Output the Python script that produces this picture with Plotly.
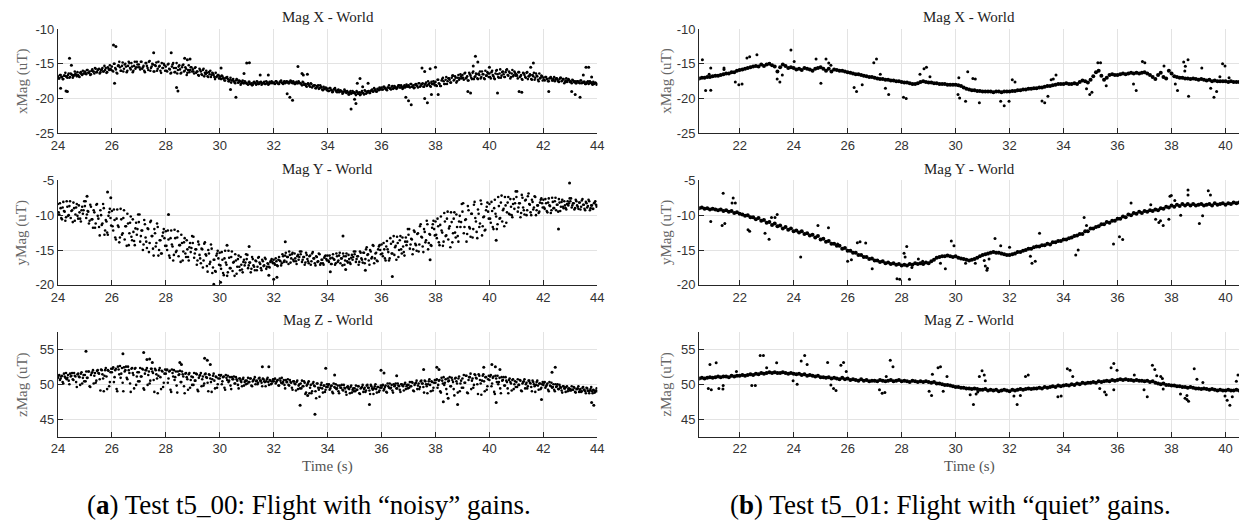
import numpy as np
import plotly.graph_objects as go

W, H = 1250, 531

# ---------------- data ----------------
# left column (Test t5_00, "noisy"): two interleaved sample sets, 0.05 s apart each
left_a_t0, left_a_t1 = 24.0, 44.0      # set A: 24.000 ... 44.000
left_b_t0, left_b_t1 = 24.025, 43.975  # set B: 24.025 ... 43.975
# right column (Test t5_01, "quiet"): samples every 0.1 s
right_t0, right_t1 = 20.5, 40.5

lx_a = [
    -16.8, -17.1, -16.6, -16.9, -17.2, -16.7, -16.8, -17.0, -16.4, -16.9, -16.5, -17.0, -16.6, -16.4, -16.8, -16.6, -16.9, -16.2, -16.6, -16.4,
    -16.1, -16.5, -15.9, -16.3, -16.6, -16.0, -16.1, -16.4, -15.7, -16.2, -15.8, -16.4, -15.9, -15.6, -16.1, -15.9, -16.3, -15.5, -15.9, -15.7,
    -15.4, -16.1, -15.0, -15.8, -16.4, -15.2, -15.5, -16.0, -14.8, -15.7, -15.0, -16.2, -15.3, -14.9, -15.8, -15.4, -16.0, -14.7, -15.5, -15.1,
    -15.1, -15.8, -14.7, -15.5, -16.0, -14.9, -15.3, -15.9, -14.6, -15.6, -15.0, -16.1, -15.2, -14.8, -15.7, -15.4, -16.0, -14.9, -15.6, -15.2,
    -15.4, -16.1, -15.0, -15.8, -16.3, -15.1, -15.6, -16.2, -14.9, -15.9, -15.2, -16.4, -15.5, -15.1, -16.0, -15.7, -16.3, -15.2, -15.9, -15.5,
    -15.8, -16.4, -15.5, -16.1, -16.6, -15.7, -16.1, -16.6, -15.7, -16.3, -16.0, -16.8, -16.2, -16.0, -16.6, -16.4, -16.9, -16.3, -16.8, -16.6,
    -16.8, -17.2, -16.8, -17.1, -17.4, -17.0, -17.2, -17.5, -17.0, -17.4, -17.2, -17.7, -17.4, -17.3, -17.7, -17.5, -17.8, -17.4, -17.8, -17.6,
    -17.8, -18.0, -17.6, -17.9, -18.1, -17.7, -17.8, -18.0, -17.6, -17.9, -17.7, -18.0, -17.8, -17.6, -17.9, -17.8, -18.0, -17.6, -17.8, -17.7,
    -17.7, -17.9, -17.5, -17.8, -17.9, -17.6, -17.7, -17.9, -17.5, -17.7, -17.6, -17.8, -17.6, -17.5, -17.8, -17.7, -17.9, -17.6, -17.8, -17.7,
    -17.8, -18.1, -17.7, -18.0, -18.2, -17.9, -18.0, -18.3, -17.9, -18.2, -18.1, -18.5, -18.2, -18.1, -18.5, -18.3, -18.7, -18.3, -18.6, -18.5,
    -18.6, -18.9, -18.5, -18.8, -19.0, -18.6, -18.8, -19.1, -18.7, -19.0, -18.9, -19.3, -19.0, -18.9, -19.2, -19.1, -19.4, -18.9, -19.2, -19.1,
    -19.1, -19.5, -19.1, -19.3, -19.5, -19.1, -19.2, -19.4, -18.9, -19.2, -19.0, -19.2, -18.9, -18.7, -19.0, -18.8, -19.0, -18.6, -18.8, -18.6,
    -18.4, -18.7, -18.3, -18.6, -18.8, -18.4, -18.5, -18.7, -18.2, -18.5, -18.3, -18.6, -18.3, -18.1, -18.4, -18.3, -18.5, -18.1, -18.3, -18.2,
    -18.1, -18.4, -17.9, -18.3, -18.5, -18.0, -18.1, -18.4, -17.8, -18.2, -17.9, -18.3, -18.0, -17.7, -18.1, -17.9, -18.2, -17.6, -17.9, -17.8,
    -17.6, -18.2, -17.3, -17.9, -18.2, -17.2, -17.5, -17.9, -16.9, -17.5, -17.1, -17.7, -17.0, -16.7, -17.3, -17.0, -17.5, -16.6, -17.1, -16.8,
    -16.6, -17.3, -16.3, -17.0, -17.4, -16.3, -16.7, -17.2, -16.1, -16.9, -16.4, -17.1, -16.4, -16.1, -16.9, -16.5, -17.1, -16.0, -16.7, -16.4,
    -16.4, -17.1, -16.0, -16.8, -17.2, -16.0, -16.5, -17.0, -15.8, -16.7, -16.1, -16.9, -16.2, -15.8, -16.7, -16.3, -16.9, -15.9, -16.6, -16.3,
    -16.5, -17.1, -16.2, -16.8, -17.2, -16.3, -16.6, -17.0, -16.2, -16.8, -16.5, -17.2, -16.6, -16.3, -17.0, -16.7, -17.3, -16.4, -17.0, -16.8,
    -17.0, -17.4, -16.9, -17.2, -17.5, -17.0, -17.1, -17.4, -16.9, -17.3, -17.1, -17.5, -17.2, -17.0, -17.4, -17.2, -17.6, -17.1, -17.4, -17.3,
    -17.5, -17.8, -17.4, -17.6, -17.8, -17.5, -17.6, -17.8, -17.4, -17.7, -17.6, -17.9, -17.7, -17.5, -17.8, -17.7, -17.9, -17.6, -17.8, -17.8,
    -17.9,
]
lx_b = [
    -17.1, -16.6, -16.9, -17.2, -16.7, -16.3, -16.9, -16.6, -17.0, -16.4, -16.6, -16.8, -16.1, -16.6, -16.2, -16.8, -16.3, -16.5, -16.0, -16.4,
    -16.3, -15.9, -16.3, -16.1, -16.5, -15.8, -16.1, -15.6, -16.2, -15.9, -15.7, -16.2, -15.8, -16.1, -15.3, -15.6, -16.2, -15.7, -15.2, -15.9,
    -16.0, -15.0, -15.6, -16.3, -15.3, -14.7, -16.0, -15.3, -16.1, -15.1, -15.4, -16.0, -14.7, -15.6, -14.9, -16.2, -15.3, -15.7, -14.7, -15.5,
    -15.5, -14.7, -15.7, -15.3, -16.2, -14.9, -15.6, -14.7, -16.0, -15.4, -15.1, -16.1, -15.3, -16.0, -14.7, -15.3, -16.3, -15.6, -15.0, -16.0,
    -16.0, -15.1, -15.7, -16.4, -15.4, -14.9, -16.2, -15.6, -16.4, -15.4, -15.8, -16.3, -15.2, -16.1, -15.5, -16.6, -15.9, -16.2, -15.5, -16.1,
    -16.1, -15.6, -16.3, -16.1, -16.7, -15.9, -16.5, -15.9, -16.8, -16.5, -16.3, -16.9, -16.5, -16.9, -16.3, -16.6, -17.2, -16.9, -16.6, -17.1,
    -17.1, -16.7, -17.1, -17.4, -17.0, -16.9, -17.5, -17.3, -17.7, -17.3, -17.5, -17.8, -17.2, -17.7, -17.4, -18.0, -17.6, -17.8, -17.5, -17.8,
    -17.9, -17.6, -17.9, -17.8, -18.0, -17.6, -17.8, -17.5, -17.9, -17.7, -17.6, -17.9, -17.7, -17.9, -17.5, -17.7, -17.9, -17.7, -17.5, -17.8,
    -17.8, -17.5, -17.7, -17.9, -17.6, -17.4, -17.8, -17.6, -17.8, -17.5, -17.6, -17.8, -17.4, -17.7, -17.5, -17.9, -17.7, -17.8, -17.5, -17.8,
    -17.9, -17.6, -18.0, -17.9, -18.3, -17.8, -18.2, -17.8, -18.4, -18.2, -18.1, -18.5, -18.3, -18.6, -18.1, -18.4, -18.8, -18.6, -18.4, -18.8,
    -18.9, -18.5, -18.8, -19.1, -18.7, -18.5, -19.0, -18.8, -19.1, -18.8, -19.0, -19.2, -18.7, -19.1, -18.9, -19.4, -19.1, -19.3, -18.9, -19.2,
    -19.3, -18.9, -19.3, -19.1, -19.4, -18.9, -19.2, -18.8, -19.3, -19.0, -18.9, -19.2, -18.8, -19.0, -18.5, -18.7, -19.0, -18.7, -18.4, -18.7,
    -18.7, -18.3, -18.5, -18.7, -18.4, -18.1, -18.6, -18.3, -18.6, -18.2, -18.4, -18.5, -18.1, -18.4, -18.1, -18.6, -18.3, -18.4, -18.0, -18.3,
    -18.3, -17.9, -18.3, -18.1, -18.4, -17.9, -18.2, -17.8, -18.3, -18.0, -17.8, -18.3, -17.9, -18.2, -17.5, -17.8, -18.3, -17.9, -17.5, -18.1,
    -18.1, -17.3, -17.8, -18.2, -17.4, -17.0, -17.9, -17.3, -17.9, -17.1, -17.3, -17.7, -16.7, -17.4, -16.8, -17.7, -17.0, -17.3, -16.5, -17.1,
    -17.0, -16.4, -17.1, -16.8, -17.4, -16.5, -17.0, -16.3, -17.2, -16.8, -16.5, -17.2, -16.6, -17.1, -16.1, -16.5, -17.2, -16.7, -16.2, -16.9,
    -16.9, -16.2, -16.6, -17.1, -16.4, -15.9, -16.9, -16.4, -17.0, -16.2, -16.5, -16.9, -15.9, -16.6, -16.1, -17.1, -16.4, -16.8, -16.1, -16.7,
    -16.7, -16.2, -16.9, -16.6, -17.3, -16.4, -16.9, -16.3, -17.2, -16.8, -16.6, -17.3, -16.8, -17.3, -16.4, -16.8, -17.5, -17.1, -16.7, -17.4,
    -17.3, -16.9, -17.2, -17.5, -17.1, -16.9, -17.4, -17.2, -17.5, -17.1, -17.3, -17.6, -17.0, -17.5, -17.2, -17.8, -17.4, -17.6, -17.2, -17.6,
    -17.6, -17.3, -17.6, -17.5, -17.8, -17.5, -17.7, -17.4, -17.8, -17.7, -17.6, -17.9, -17.7, -17.9, -17.5, -17.7, -18.0, -17.9, -17.7, -18.0,
]
lx_out_t = [24.1, 24.3, 24.35, 24.43, 24.5, 26.06, 26.15, 26.1, 27.55, 28.2, 28.7, 28.8, 28.9, 28.4, 28.45, 30.05, 30.4, 30.6, 30.9, 31.1,
            31.0, 31.5, 31.8, 32.5, 32.6, 32.7, 32.9, 33.05, 33.1, 33.25, 34.87, 35.0, 35.05, 35.1, 35.2, 35.3, 35.5, 36.9, 37.0, 37.1,
            37.5, 37.6, 37.8, 38.0, 37.6, 37.7, 37.85, 38.1, 39.2, 39.3, 39.4, 39.48, 39.57, 40.0, 40.3, 41.1, 41.2, 41.53, 41.63, 42.2,
            43.05, 43.18, 43.36, 43.58, 43.68, 43.48, 43.79]
lx_out_v = [-18.5, -18.9, -19.0, -14.2, -15.2, -12.3, -12.5, -17.8, -13.4, -13.4, -14.2, -14.4, -14.3, -18.4, -18.9, -15.6, -18.7, -19.8, -16.4, -14.85,
            -14.9, -16.6, -16.6, -19.3, -19.8, -20.25, -15.4, -16.4, -16.6, -16.5, -21.5, -20.1, -20.7, -17.8, -17.1, -18.3, -17.8, -19.8, -20.3, -20.9,
            -15.6, -16.1, -15.7, -15.5, -20.0, -20.6, -19.4, -19.4, -19.0, -19.2, -15.3, -13.9, -14.75, -15.5, -19.2, -19.0, -19.1, -15.5, -14.9, -19.0,
            -19.0, -19.4, -19.8, -15.5, -15.5, -16.6, -16.9]

ly_a = [
    -8.4, -9.9, -9.0, -10.6, -8.1, -9.5, -10.3, -8.8, -10.0, -8.0, -9.4, -11.0, -9.0, -9.9, -8.4, -10.5, -9.6, -10.9, -8.8, -9.3,
    -8.7, -10.4, -9.4, -11.2, -8.5, -10.6, -11.8, -9.6, -11.2, -8.4, -10.5, -12.9, -10.0, -11.2, -9.0, -12.2, -10.9, -12.8, -9.6, -10.4,
    -9.4, -12.2, -10.7, -13.5, -9.2, -11.7, -13.2, -10.6, -12.6, -9.3, -11.6, -14.4, -11.2, -12.6, -10.2, -13.6, -12.4, -14.3, -11.1, -12.0,
    -11.0, -13.8, -12.2, -15.0, -10.7, -13.2, -14.7, -12.0, -14.0, -10.8, -13.0, -15.8, -12.6, -14.0, -11.7, -15.0, -13.6, -15.5, -12.5, -13.3,
    -12.3, -15.0, -13.5, -16.1, -12.2, -14.5, -15.7, -13.3, -15.1, -12.3, -14.3, -16.7, -14.0, -15.2, -13.3, -16.0, -14.9, -16.5, -14.0, -14.7,
    -14.0, -16.1, -14.9, -17.1, -13.8, -15.7, -16.9, -14.9, -16.5, -13.9, -15.8, -18.1, -15.5, -16.7, -14.8, -17.5, -16.4, -18.1, -15.5, -16.2,
    -15.4, -17.7, -16.4, -18.6, -15.1, -17.1, -18.2, -16.1, -17.6, -15.2, -16.8, -18.7, -16.5, -17.4, -15.8, -17.9, -17.1, -18.2, -16.4, -16.8,
    -16.3, -17.6, -16.8, -18.2, -16.0, -17.2, -17.9, -16.6, -17.4, -16.0, -17.0, -17.9, -16.6, -17.2, -16.3, -17.4, -17.0, -17.5, -16.5, -16.7,
    -16.4, -17.1, -16.6, -17.3, -16.0, -16.6, -16.9, -15.9, -16.5, -15.4, -16.0, -17.0, -15.7, -16.2, -15.4, -16.6, -16.2, -17.0, -15.7, -16.0,
    -15.6, -16.7, -16.0, -17.1, -15.4, -16.3, -16.9, -15.8, -16.6, -15.3, -16.2, -17.2, -16.0, -16.6, -15.6, -16.9, -16.4, -17.1, -15.9, -16.3,
    -15.8, -16.7, -16.2, -17.0, -15.6, -16.4, -16.9, -15.9, -16.5, -15.4, -16.2, -17.2, -15.9, -16.5, -15.5, -16.8, -16.3, -17.0, -15.7, -16.0,
    -15.6, -16.7, -15.9, -17.1, -15.2, -16.2, -16.8, -15.4, -16.3, -14.6, -15.6, -17.1, -15.2, -16.0, -14.4, -16.2, -15.4, -16.6, -14.5, -15.0,
    -14.2, -15.9, -14.9, -16.5, -13.7, -15.3, -16.2, -14.1, -15.5, -13.0, -14.6, -16.4, -14.0, -15.0, -13.0, -15.5, -14.5, -15.8, -13.2, -13.8,
    -12.8, -14.8, -13.4, -15.6, -12.2, -14.1, -15.1, -12.6, -14.2, -11.3, -13.2, -15.3, -12.4, -13.6, -11.3, -14.0, -12.8, -14.4, -11.3, -12.0,
    -10.9, -13.3, -11.6, -14.3, -10.2, -12.5, -13.8, -10.9, -12.9, -9.5, -11.9, -14.6, -11.0, -12.6, -9.6, -13.2, -11.7, -13.8, -10.1, -11.0,
    -9.5, -12.6, -10.7, -13.8, -8.7, -11.7, -13.1, -9.8, -12.0, -8.1, -10.9, -13.3, -9.8, -11.2, -8.4, -11.6, -10.2, -12.1, -8.8, -9.5,
    -8.4, -11.1, -9.4, -12.0, -7.8, -10.2, -11.3, -8.7, -10.4, -7.2, -9.3, -11.6, -8.6, -9.6, -7.4, -9.9, -8.8, -10.3, -7.7, -8.3,
    -7.4, -9.5, -8.3, -10.3, -7.1, -8.9, -9.9, -7.8, -9.3, -6.9, -8.5, -10.0, -8.1, -8.9, -7.4, -9.3, -8.6, -9.5, -7.8, -8.3,
    -7.8, -9.1, -8.3, -9.6, -7.6, -8.7, -9.3, -8.1, -9.0, -7.5, -8.5, -9.5, -8.2, -8.8, -7.8, -9.0, -8.6, -9.2, -8.0, -8.3,
    -8.0, -8.9, -8.3, -9.2, -7.8, -8.6, -9.1, -8.2, -8.8, -7.7, -8.5, -9.3, -8.3, -8.7, -8.0, -9.0, -8.6, -9.1, -8.2, -8.5,
    -8.6,
]
ly_b = [
    -9.6, -8.3, -10.4, -8.9, -9.4, -10.8, -8.0, -10.1, -8.7, -10.4, -9.3, -8.2, -10.8, -8.9, -10.1, -8.6, -10.5, -9.3, -9.8, -8.0,
    -8.0, -9.9, -9.5, -10.8, -8.8, -10.6, -9.3, -11.8, -8.5, -10.1, -11.7, -9.3, -11.4, -8.4, -12.8, -10.7, -12.5, -10.1, -9.1, -11.5,
    -11.6, -9.2, -13.2, -10.5, -11.5, -13.9, -9.1, -12.8, -10.4, -13.5, -11.6, -9.8, -14.3, -11.1, -13.1, -10.6, -13.7, -11.9, -12.8, -9.9,
    -9.9, -13.0, -12.2, -14.2, -11.3, -13.8, -11.9, -15.3, -11.0, -13.0, -14.8, -12.0, -14.5, -11.2, -15.8, -13.6, -15.5, -13.0, -12.0, -14.4,
    -14.4, -12.2, -15.8, -13.3, -14.2, -16.5, -12.1, -15.3, -13.2, -15.9, -14.3, -12.8, -16.5, -13.9, -15.5, -13.6, -16.0, -14.6, -15.3, -13.0,
    -13.1, -15.5, -14.9, -16.5, -14.2, -16.2, -14.8, -17.5, -14.1, -15.6, -17.3, -15.0, -17.0, -14.2, -18.3, -16.4, -18.0, -15.8, -15.1, -17.1,
    -17.2, -15.3, -18.3, -16.2, -16.8, -18.7, -15.1, -17.6, -16.0, -18.0, -16.7, -15.6, -18.4, -16.3, -17.4, -16.0, -17.8, -16.7, -17.2, -15.6,
    -15.7, -17.2, -16.8, -17.7, -16.3, -17.4, -16.5, -17.9, -16.1, -16.8, -17.6, -16.4, -17.3, -16.1, -17.7, -16.9, -17.4, -16.7, -16.3, -16.9,
    -16.9, -16.2, -17.2, -16.4, -16.5, -17.2, -15.6, -16.7, -15.8, -16.7, -16.0, -15.2, -16.8, -15.6, -16.4, -15.5, -16.6, -15.9, -16.4, -15.2,
    -15.2, -16.4, -16.0, -16.8, -15.7, -16.6, -15.9, -17.1, -15.5, -16.2, -16.9, -15.9, -16.7, -15.5, -17.1, -16.4, -16.9, -16.1, -15.8, -16.5,
    -16.5, -15.8, -17.0, -16.1, -16.3, -17.1, -15.5, -16.7, -15.8, -16.9, -16.2, -15.5, -17.1, -15.9, -16.6, -15.7, -16.8, -16.1, -16.4, -15.2,
    -15.2, -16.3, -15.9, -16.7, -15.4, -16.4, -15.4, -16.9, -14.9, -15.7, -16.5, -15.0, -16.2, -14.3, -16.9, -15.5, -16.5, -14.9, -14.3, -15.6,
    -15.5, -14.0, -16.2, -14.5, -14.9, -16.5, -13.3, -15.5, -13.8, -15.7, -14.4, -13.1, -16.0, -13.6, -14.9, -13.2, -15.3, -13.8, -14.3, -12.0,
    -12.0, -14.2, -13.5, -14.9, -12.4, -14.3, -12.7, -15.2, -11.6, -13.1, -14.5, -12.0, -13.9, -10.8, -14.9, -12.7, -14.3, -11.8, -10.8, -12.9,
    -12.8, -10.5, -13.9, -11.4, -12.2, -14.4, -9.7, -13.0, -10.5, -13.5, -11.6, -9.6, -13.9, -10.5, -12.5, -9.9, -13.0, -10.9, -11.7, -8.4,
    -8.3, -11.7, -10.6, -12.7, -9.3, -11.9, -9.8, -13.2, -8.5, -10.4, -12.4, -9.2, -11.7, -7.9, -12.9, -10.3, -12.2, -9.3, -8.2, -10.5,
    -10.5, -8.1, -11.7, -9.0, -9.8, -12.0, -7.4, -10.5, -8.2, -10.9, -9.1, -7.4, -11.1, -8.2, -9.8, -7.7, -10.0, -8.4, -9.1, -6.6,
    -6.6, -8.9, -8.3, -9.7, -7.5, -9.3, -7.9, -10.0, -7.3, -8.4, -9.6, -7.8, -9.2, -7.3, -10.0, -8.6, -9.7, -8.2, -7.6, -8.9,
    -8.9, -7.7, -9.4, -8.2, -8.6, -9.7, -7.5, -9.0, -8.0, -9.3, -8.5, -7.7, -9.4, -8.1, -8.8, -8.0, -9.0, -8.4, -8.6, -7.6,
    -7.6, -8.6, -8.3, -9.0, -8.0, -8.8, -8.2, -9.2, -7.9, -8.5, -9.1, -8.1, -8.9, -7.8, -9.3, -8.6, -9.1, -8.3, -8.0, -8.8,
]
ly_out_t = [25.84, 25.96, 25.08, 28.1, 30.27, 31.09, 32.43, 29.78, 30.03, 31.82, 32.0, 32.12, 42.97, 34.57, 36.4, 42.56, 40.25,
            34.1, 34.67, 35.4, 37.8]
ly_out_v = [-6.7, -7.5, -7.3, -9.9, -14.3, -14.5, -13.8, -19.9, -19.6, -18.6, -19.2, -18.9, -5.4, -13.0, -18.8, -12.0, -13.6,
            -18.1, -17.8, -17.9, -16.4]

lz_a = [
    50.9, 51.3, 50.8, 51.2, 50.1, 51.1, 51.6, 50.9, 50.5, 51.5, 51.2, 50.7, 51.6, 51.1, 49.6, 51.5, 51.0, 51.5, 50.1, 51.3,
    51.3, 51.8, 50.9, 51.8, 49.6, 51.6, 52.0, 51.2, 50.2, 51.9, 51.6, 50.7, 52.1, 51.4, 49.0, 52.0, 51.1, 52.0, 49.7, 51.7,
    51.7, 52.4, 51.0, 52.2, 49.0, 52.1, 52.6, 51.5, 50.2, 52.4, 52.0, 50.9, 52.5, 51.6, 48.9, 52.3, 51.3, 52.2, 49.9, 51.7,
    51.7, 52.3, 51.1, 52.1, 49.2, 52.0, 52.3, 51.3, 50.1, 52.2, 51.8, 50.6, 52.2, 51.4, 48.7, 52.0, 51.0, 51.9, 49.6, 51.5,
    51.5, 52.1, 50.8, 51.9, 48.9, 51.6, 52.0, 51.0, 49.8, 51.8, 51.4, 50.3, 51.8, 51.1, 48.7, 51.6, 50.7, 51.4, 49.5, 51.1,
    51.0, 51.6, 50.5, 51.4, 49.0, 51.2, 51.6, 50.7, 49.8, 51.4, 51.0, 50.2, 51.4, 50.8, 48.9, 51.2, 50.5, 51.1, 49.5, 50.8,
    50.8, 51.3, 50.4, 51.1, 49.2, 50.9, 51.2, 50.5, 49.8, 51.0, 50.7, 50.1, 51.0, 50.5, 49.4, 50.8, 50.3, 50.7, 49.8, 50.5,
    50.5, 50.9, 50.3, 50.8, 49.7, 50.6, 51.0, 50.4, 50.0, 50.8, 50.5, 50.2, 50.8, 50.4, 49.7, 50.7, 50.3, 50.6, 50.0, 50.4,
    50.4, 50.8, 50.3, 50.6, 49.8, 50.5, 50.9, 50.3, 49.9, 50.6, 50.3, 49.9, 50.6, 50.2, 49.2, 50.4, 50.0, 50.3, 49.3, 50.0,
    50.1, 50.5, 49.7, 50.2, 48.8, 50.0, 50.4, 49.5, 48.7, 50.1, 49.8, 49.0, 50.1, 49.5, 48.2, 49.9, 49.4, 49.8, 48.9, 49.6,
    49.6, 50.0, 49.4, 49.8, 48.7, 49.6, 50.0, 49.4, 49.0, 49.8, 49.5, 49.2, 49.9, 49.4, 48.5, 49.7, 49.3, 49.6, 48.8, 49.4,
    49.4, 49.8, 49.2, 49.7, 48.6, 49.5, 49.9, 49.3, 48.9, 49.8, 49.5, 49.1, 49.9, 49.4, 48.6, 49.7, 49.3, 49.6, 48.9, 49.5,
    49.5, 49.9, 49.3, 49.8, 48.8, 49.7, 50.1, 49.5, 49.1, 50.0, 49.8, 49.4, 50.1, 49.7, 48.9, 50.0, 49.7, 50.0, 49.3, 49.9,
    49.9, 50.3, 49.7, 50.2, 49.0, 50.1, 50.5, 49.8, 49.3, 50.4, 50.1, 49.6, 50.5, 50.0, 48.7, 50.4, 49.9, 50.4, 49.1, 50.2,
    50.2, 50.7, 49.9, 50.6, 48.8, 50.5, 51.0, 50.2, 49.3, 50.8, 50.5, 49.7, 50.9, 50.3, 48.4, 50.9, 50.1, 50.8, 49.0, 50.5,
    50.8, 51.3, 50.2, 51.2, 48.7, 51.0, 51.5, 50.5, 49.5, 51.4, 50.9, 50.0, 51.4, 50.6, 48.5, 51.2, 50.4, 51.0, 49.2, 50.7,
    50.6, 51.3, 50.1, 51.1, 48.6, 50.8, 51.2, 50.3, 49.4, 51.0, 50.6, 49.8, 51.0, 50.3, 48.7, 50.8, 50.1, 50.6, 49.3, 50.4,
    50.3, 50.7, 49.9, 50.5, 49.0, 50.3, 50.7, 50.0, 49.4, 50.5, 50.2, 49.6, 50.5, 50.0, 48.9, 50.3, 49.8, 50.1, 49.3, 50.0,
    49.9, 50.3, 49.7, 50.1, 49.0, 49.8, 50.2, 49.6, 49.2, 50.0, 49.7, 49.3, 49.9, 49.5, 48.8, 49.7, 49.4, 49.6, 49.0, 49.4,
    49.3, 49.7, 49.2, 49.5, 48.8, 49.3, 49.7, 49.2, 48.9, 49.5, 49.2, 49.0, 49.5, 49.1, 48.7, 49.3, 49.0, 49.2, 48.8, 49.1,
    49.0,
]
lz_b = [
    51.2, 50.6, 51.1, 50.3, 51.5, 50.9, 50.7, 51.3, 50.0, 51.1, 51.6, 50.6, 51.2, 50.3, 51.4, 51.1, 49.9, 51.7, 50.9, 50.4,
    50.4, 50.9, 51.8, 49.7, 51.3, 51.7, 50.1, 51.6, 50.5, 52.0, 51.5, 49.1, 52.0, 50.8, 51.2, 52.3, 49.3, 51.9, 50.3, 52.2,
    52.2, 50.3, 52.0, 49.3, 52.5, 51.4, 50.9, 52.3, 49.0, 51.8, 52.5, 50.7, 52.0, 50.1, 52.2, 51.6, 49.4, 52.3, 51.1, 50.4,
    50.4, 51.1, 52.2, 49.4, 51.5, 52.0, 49.9, 51.8, 50.5, 52.2, 51.6, 48.9, 52.0, 50.8, 51.2, 52.3, 49.3, 51.8, 50.2, 52.1,
    52.0, 50.2, 51.8, 49.2, 52.1, 51.1, 50.6, 51.8, 48.8, 51.3, 51.9, 50.3, 51.4, 49.7, 51.5, 51.0, 49.2, 51.6, 50.6, 49.9,
    49.9, 50.5, 51.5, 49.2, 50.9, 51.3, 49.7, 51.1, 50.1, 51.5, 50.9, 49.0, 51.3, 50.3, 50.7, 51.5, 49.4, 51.0, 50.0, 51.3,
    51.2, 50.0, 51.0, 49.5, 51.3, 50.6, 50.3, 51.0, 49.3, 50.7, 51.1, 50.1, 50.7, 49.9, 50.8, 50.5, 49.7, 50.9, 50.3, 50.0,
    50.1, 50.3, 50.8, 49.8, 50.4, 50.7, 50.0, 50.5, 50.2, 50.9, 50.5, 49.7, 50.7, 50.3, 50.4, 50.9, 49.9, 50.5, 50.1, 50.7,
    50.7, 50.1, 50.5, 49.8, 50.8, 50.2, 50.1, 50.6, 49.4, 50.3, 50.7, 49.8, 50.3, 49.5, 50.4, 50.1, 49.1, 50.5, 49.8, 49.4,
    49.4, 49.7, 50.4, 48.6, 49.8, 50.2, 48.7, 49.9, 49.0, 50.3, 49.7, 48.0, 50.1, 49.2, 49.5, 50.2, 48.8, 49.8, 49.2, 50.0,
    49.9, 49.2, 49.7, 48.9, 50.1, 49.5, 49.3, 49.8, 48.7, 49.5, 49.9, 49.1, 49.5, 48.9, 49.6, 49.4, 48.7, 49.8, 49.2, 49.0,
    49.0, 49.2, 49.7, 48.7, 49.4, 49.6, 48.9, 49.5, 49.1, 49.9, 49.5, 48.6, 49.7, 49.2, 49.4, 50.0, 48.8, 49.6, 49.1, 49.8,
    49.8, 49.1, 49.6, 48.9, 50.1, 49.5, 49.4, 49.9, 48.8, 49.7, 50.1, 49.4, 49.8, 49.2, 50.0, 49.8, 49.1, 50.2, 49.7, 49.4,
    49.5, 49.7, 50.3, 49.1, 49.9, 50.2, 49.3, 50.1, 49.6, 50.5, 50.1, 48.8, 50.4, 49.7, 50.0, 50.7, 49.0, 50.3, 49.5, 50.6,
    50.6, 49.5, 50.5, 49.0, 50.9, 50.1, 49.9, 50.7, 48.6, 50.4, 51.0, 49.7, 50.6, 49.3, 50.8, 50.4, 48.8, 51.1, 50.1, 49.5,
    49.5, 50.2, 51.2, 48.8, 50.6, 51.0, 49.3, 50.8, 49.9, 51.3, 50.8, 48.6, 51.2, 50.1, 50.5, 51.4, 49.0, 51.0, 49.7, 51.2,
    51.1, 49.7, 50.9, 48.9, 51.2, 50.3, 50.0, 50.9, 48.7, 50.5, 51.0, 49.8, 50.5, 49.4, 50.6, 50.3, 49.1, 50.7, 50.0, 49.6,
    49.6, 49.9, 50.6, 49.1, 50.1, 50.4, 49.4, 50.2, 49.7, 50.5, 50.1, 49.0, 50.3, 49.7, 49.9, 50.5, 49.2, 50.1, 49.5, 50.3,
    50.2, 49.5, 49.9, 49.2, 50.3, 49.7, 49.5, 50.0, 49.0, 49.6, 50.0, 49.3, 49.6, 49.1, 49.7, 49.4, 48.9, 49.7, 49.3, 49.1,
    49.1, 49.2, 49.6, 48.9, 49.3, 49.4, 48.9, 49.3, 49.0, 49.6, 49.2, 48.7, 49.4, 49.0, 49.1, 49.6, 48.7, 49.1, 48.9, 49.4,
]
lz_out_t = [25.04, 26.41, 27.18, 27.3, 27.4, 27.5, 28.52, 28.58, 29.44, 29.54, 29.65, 31.58, 31.82, 32.98, 33.26, 33.53,
            33.93, 34.26, 35.55, 35.98, 36.09, 36.56, 37.56, 38.05, 38.13, 38.29, 38.47, 38.82, 39.79, 40.09, 40.22, 40.39,
            40.25, 41.93, 42.32, 42.44, 43.79, 43.87]
lz_out_v = [54.7, 54.35, 54.5, 53.5, 53.6, 53.1, 53.1, 52.8, 53.7, 53.4, 52.8, 52.5, 52.5, 47.0, 48.4, 45.7,
            52.26, 51.3, 47.1, 52.0, 51.6, 51.2, 52.1, 52.4, 52.1, 47.5, 48.0, 47.1, 52.4, 52.8, 52.5, 52.1,
            47.4, 47.8, 51.7, 52.4, 47.4, 47.0]

rx_vals = [
    -17.1, -17.0, -17.0, -16.9, -16.9, -16.8,
    -16.7, -16.7, -16.6, -16.5, -16.4, -16.4, -16.2, -16.2, -16.0, -15.9,
    -15.8, -15.7, -15.6, -15.5, -15.4, -15.3, -15.4, -15.1, -15.3, -15.1,
    -15.0, -15.2, -15.4, -16.1, -15.5, -15.1, -15.3, -15.6, -15.5, -15.6,
    -15.8, -15.7, -15.9, -15.6, -15.7, -15.8, -16.0, -15.7, -15.6, -15.5,
    -15.7, -16.0, -15.7, -16.1, -15.8, -15.9, -16.0, -16.0, -16.1, -16.2,
    -16.3, -16.4, -16.5, -16.5, -16.6, -16.7, -16.8, -16.9, -16.9, -17.0,
    -17.1, -17.2, -17.2, -17.3, -17.3, -17.4, -17.4, -17.5, -17.5, -17.6,
    -17.7, -17.7, -17.8, -17.9, -17.9, -17.8, -17.6, -17.5, -17.6, -17.7,
    -17.7, -17.8, -17.8, -17.9, -17.9, -17.9, -18.0, -18.0, -18.0, -18.0,
    -18.1, -18.2, -18.4, -18.6, -18.7, -18.8, -18.8, -18.9, -18.9, -19.0,
    -19.0, -19.0, -19.0, -19.1, -19.0, -19.0, -19.1, -19.0, -19.0, -19.0,
    -18.9, -18.9, -18.8, -18.8, -18.7, -18.7, -18.6, -18.6, -18.5, -18.5,
    -18.4, -18.4, -18.3, -18.2, -18.2, -18.1, -18.0, -17.9, -17.9, -17.9,
    -17.8, -17.9, -17.9, -17.8, -17.9, -17.6, -17.4, -17.5, -17.7, -17.3,
    -16.8, -16.2, -16.0, -16.7, -17.3, -17.0, -16.6, -16.5, -16.6, -16.6,
    -16.5, -16.4, -16.5, -16.4, -16.3, -16.4, -16.3, -16.4, -16.3, -16.2,
    -16.4, -16.6, -16.9, -17.2, -16.6, -16.3, -16.9, -17.1, -16.0, -16.4,
    -16.8, -16.9, -17.0, -17.0, -17.1, -17.1, -17.2, -17.1, -17.2, -17.3,
    -17.2, -17.3, -17.4, -17.3, -17.5, -17.4, -17.5, -17.5, -17.5, -17.5,
    -17.6, -17.5, -17.6, -17.6, -17.6,
]
rx_out_t = [20.62, 20.74, 20.93, 20.93, 20.87, 21.42, 21.42, 21.84, 21.97, 22.09, 22.27, 22.37, 22.64, 23.39, 23.49, 23.58,
            23.9, 24.02, 24.83, 25.01, 25.2, 25.3, 25.38, 26.24, 26.33, 26.54, 26.97, 27.07, 27.21, 27.4, 27.52, 28.07,
            28.17, 28.68, 28.83, 28.92, 29.05, 30.12, 30.09, 30.15, 30.37, 30.45, 30.64, 30.73, 30.88, 31.67, 31.8, 31.98,
            32.1, 32.2, 33.2, 33.3, 33.42, 33.54, 33.62, 33.72, 34.85, 34.97, 35.05, 35.27, 35.37, 35.58, 36.59, 36.69,
            36.92, 37.01, 37.72, 38.14, 38.22, 38.45, 38.51, 38.61, 38.49, 38.63, 39.12, 39.45, 39.57, 39.67, 39.79, 39.89,
            39.98, 40.13]
rx_out_v = [-14.4, -18.85, -18.8, -15.6, -16.5, -15.6, -15.8, -17.6, -18.0, -17.9, -14.15, -14.0, -13.7, -17.2, -17.6, -16.6,
            -13.0, -14.65, -14.3, -17.8, -14.3, -14.9, -15.2, -18.4, -19.0, -18.0, -14.85, -14.3, -16.5, -18.5, -19.4, -19.8,
            -20.0, -16.5, -15.7, -15.5, -16.85, -17.0, -19.4, -19.9, -20.4, -16.15, -17.1, -17.2, -20.6, -20.4, -21.05, -20.4,
            -17.3, -17.6, -20.35, -20.6, -19.65, -17.3, -17.2, -16.6, -18.6, -19.4, -19.1, -14.85, -14.85, -18.15, -17.9, -18.85,
            -14.65, -14.85, -15.3, -17.9, -18.85, -14.75, -15.35, -14.4, -16.05, -19.65, -15.6, -18.5, -19.8, -19.0, -16.85, -15.0,
            -15.3, -17.0]

ry_vals = [
    -9.0, -8.9, -9.1, -9.0, -9.2, -9.1,
    -9.2, -9.3, -9.2, -9.4, -9.3, -9.5, -9.4, -9.7, -9.6, -9.8,
    -9.9, -10.1, -10.0, -10.3, -10.3, -10.6, -10.4, -10.8, -10.7, -11.1,
    -11.0, -11.4, -11.2, -11.6, -11.5, -11.9, -11.7, -12.1, -11.9, -12.3,
    -12.2, -12.5, -12.3, -12.7, -12.6, -12.9, -12.8, -13.2, -13.0, -13.5,
    -13.4, -13.8, -13.7, -14.1, -14.1, -14.4, -14.4, -14.8, -14.7, -15.1,
    -15.1, -15.4, -15.4, -15.7, -15.7, -16.0, -16.0, -16.3, -16.2, -16.5,
    -16.5, -16.7, -16.6, -16.9, -16.8, -17.0, -16.9, -17.1, -17.0, -17.2,
    -17.1, -17.2, -17.0, -17.1, -16.9, -17.0, -16.9, -17.0, -16.8, -16.9,
    -16.6, -16.4, -16.1, -16.0, -15.9, -15.9, -15.8, -15.9, -16.0, -15.9,
    -16.1, -16.2, -16.3, -16.4, -16.5, -16.4, -16.3, -16.1, -15.9, -15.7,
    -15.6, -15.5, -15.4, -15.3, -15.4, -15.4, -15.5, -15.6, -15.7, -15.7,
    -15.6, -15.5, -15.3, -15.3, -15.1, -15.0, -14.8, -14.8, -14.6, -14.5,
    -14.5, -14.3, -14.3, -14.1, -14.2, -13.9, -13.9, -13.7, -13.7, -13.5,
    -13.5, -13.3, -13.2, -13.0, -12.9, -12.7, -12.7, -12.3, -12.3, -11.9,
    -11.9, -11.7, -11.6, -11.3, -11.3, -11.0, -11.1, -10.8, -10.8, -10.5,
    -10.5, -10.2, -10.3, -9.9, -10.0, -9.7, -9.8, -9.5, -9.7, -9.4,
    -9.5, -9.3, -9.4, -9.2, -9.3, -9.0, -9.1, -8.8, -8.9, -8.6,
    -8.8, -8.5, -8.7, -8.4, -8.6, -8.4, -8.6, -8.4, -8.6, -8.5,
    -8.4, -8.6, -8.5, -8.4, -8.6, -8.3, -8.5, -8.4, -8.3, -8.5,
    -8.3, -8.4, -8.2, -8.3, -8.2,
]
ry_out_t = [21.39, 21.72, 21.84, 21.76, 20.93, 21.35, 21.45, 22.31, 22.37, 22.94, 23.09, 23.18, 23.31, 23.39, 24.26, 24.9,
            25.29, 25.63, 26.0, 26.14, 26.36, 26.46, 26.67, 26.91, 27.83, 27.93, 28.09, 28.13, 28.19, 28.29, 28.38, 28.62,
            28.78, 29.84, 29.94, 29.62, 29.44, 30.37, 30.73, 31.06, 31.1, 31.16, 31.18, 31.46, 31.24, 31.67, 32.0, 32.77,
            32.83, 32.95, 33.11, 34.54, 34.45, 34.76, 34.85, 35.85, 36.07, 36.19, 36.5, 37.23, 37.41, 37.53, 37.69, 37.59,
            37.9, 37.99, 37.94, 38.12, 38.34, 38.61, 38.61, 39.03, 39.15, 39.36, 39.44]
ry_out_v = [-6.87, -8.26, -8.26, -7.56, -10.9, -11.5, -11.2, -12.1, -12.3, -12.6, -13.45, -10.35, -10.35, -9.9, -16.0, -11.5,
            -11.8, -14.15, -16.6, -16.4, -13.95, -13.8, -14.0, -17.7, -19.1, -19.2, -15.45, -16.0, -14.5, -19.2, -17.5, -16.3,
            -16.6, -13.7, -14.4, -17.7, -16.9, -16.9, -16.9, -16.5, -17.3, -17.9, -17.6, -13.35, -16.3, -14.4, -14.6, -15.9,
            -16.9, -16.6, -12.6, -15.0, -15.7, -10.35, -11.5, -14.15, -13.1, -13.5, -8.26, -8.5, -10.6, -11.05, -11.5, -10.8,
            -10.6, -7.2, -7.3, -7.9, -10.0, -6.4, -7.1, -11.2, -10.1, -6.5, -7.1]

rz_vals = [
    50.8, 50.9, 50.8, 50.9, 51.0, 50.9,
    51.0, 51.1, 51.0, 51.1, 51.1, 51.0, 51.2, 51.1, 51.2, 51.2,
    51.3, 51.2, 51.3, 51.4, 51.3, 51.5, 51.4, 51.6, 51.5, 51.6,
    51.7, 51.6, 51.7, 51.6, 51.6, 51.7, 51.6, 51.5, 51.6, 51.5,
    51.4, 51.5, 51.3, 51.4, 51.2, 51.3, 51.2, 51.1, 51.2, 51.0,
    51.0, 50.9, 51.0, 50.8, 50.9, 50.8, 50.7, 50.9, 50.7, 50.8,
    50.6, 50.7, 50.6, 50.5, 50.7, 50.5, 50.6, 50.4, 50.5, 50.5,
    50.4, 50.6, 50.5, 50.4, 50.5, 50.6, 50.4, 50.5, 50.6, 50.4,
    50.5, 50.4, 50.3, 50.5, 50.4, 50.3, 50.4, 50.3, 50.4, 50.3,
    50.2, 50.3, 50.1, 50.1, 50.0, 49.9, 49.9, 49.8, 49.7, 49.6,
    49.6, 49.5, 49.5, 49.4, 49.4, 49.3, 49.4, 49.3, 49.2, 49.2,
    49.3, 49.1, 49.2, 49.1, 49.2, 49.0, 49.1, 49.2, 49.1, 49.0,
    49.2, 49.1, 49.2, 49.3, 49.2, 49.3, 49.4, 49.3, 49.4, 49.4,
    49.5, 49.4, 49.6, 49.5, 49.6, 49.7, 49.6, 49.8, 49.7, 49.8,
    49.9, 49.8, 50.0, 49.9, 50.1, 50.0, 50.2, 50.1, 50.2, 50.2,
    50.3, 50.2, 50.4, 50.3, 50.4, 50.5, 50.4, 50.6, 50.5, 50.6,
    50.7, 50.6, 50.7, 50.6, 50.6, 50.5, 50.6, 50.5, 50.5, 50.4,
    50.5, 50.3, 50.4, 50.2, 50.1, 50.0, 50.1, 49.9, 49.9, 49.8,
    49.8, 49.7, 49.7, 49.6, 49.6, 49.5, 49.6, 49.5, 49.4, 49.4,
    49.3, 49.4, 49.3, 49.2, 49.3, 49.2, 49.1, 49.2, 49.1, 49.1,
    49.2, 49.1, 49.1, 49.2, 49.1,
]
rz_out_t = [20.9, 21.13, 20.84, 20.95, 21.23, 21.38, 21.39, 21.88, 22.45, 22.58, 22.76, 22.88, 23.0, 23.37, 23.98, 24.13,
            24.28, 24.41, 24.5, 25.26, 25.38, 25.48, 25.57, 25.75, 25.85, 25.95, 27.18, 27.28, 27.38, 27.58, 27.68, 27.43,
            29.02, 29.11, 29.14, 29.35, 29.44, 29.54, 29.68, 30.54, 30.66, 30.76, 30.82, 30.88, 30.98, 31.06, 31.1, 32.16,
            32.28, 32.4, 32.59, 32.69, 33.79, 33.91, 34.14, 34.24, 34.34, 35.34, 35.52, 35.58, 35.76, 35.86, 35.98, 35.86,
            36.62, 36.98, 37.1, 37.29, 37.38, 37.45, 37.6, 37.66, 37.69, 38.33, 38.57, 38.57, 38.63, 38.5, 38.84, 38.94,
            39.16, 39.98, 40.06, 40.16, 40.25, 40.4, 40.46]
rz_out_v = [52.8, 53.05, 49.4, 49.2, 49.4, 49.3, 49.8, 51.8, 49.8, 49.8, 54.1, 54.1, 52.35, 53.05, 50.5, 50.0,
            53.3, 54.1, 52.8, 53.1, 49.9, 49.4, 49.1, 52.7, 53.1, 51.8, 49.2, 48.7, 48.8, 53.4, 52.5, 51.1,
            49.0, 48.4, 51.4, 52.35, 52.5, 49.0, 51.1, 48.5, 47.1, 48.6, 48.9, 51.1, 51.9, 51.3, 50.5, 48.3,
            47.1, 48.4, 51.1, 51.3, 48.2, 48.3, 52.2, 52.0, 51.1, 49.4, 48.9, 48.5, 52.35, 52.96, 52.0, 49.2,
            51.3, 49.2, 48.2, 52.7, 52.1, 51.2, 51.1, 50.8, 49.3, 48.6, 48.4, 47.8, 47.55, 48.0, 52.2, 50.7,
            50.25, 48.3, 47.7, 47.0, 48.2, 50.4, 51.3]

panel_titles = ["Mag X - World", "Mag X - World", "Mag Y - World", "Mag Y - World", "Mag Z - World", "Mag Z - World"]
y_labels = ["xMag (uT)", "yMag (uT)", "zMag (uT)"]
x_label = "Time (s)"
captions = ["(<b>a</b>) Test t5_00: Flight with \u201cnoisy\u201d gains.",
            "(<b>b</b>) Test t5_01: Flight with \u201cquiet\u201d gains."]
left_xticks = [24, 26, 28, 30, 32, 34, 36, 38, 40, 42, 44]
right_xticks = [22, 24, 26, 28, 30, 32, 34, 36, 38, 40]
y_ticks = [[-25, -20, -15, -10], [-20, -15, -10, -5], [45, 50, 55]]
y_tick_text = [["-25", "-20", "-15", "-10"], ["-20", "-15", "-10", "-5"], ["45", "50", "55"]]
y_ranges = [[-25, -10], [-20, -5], [42.5, 57.5]]
x_ranges = [[24, 44], [20.5, 40.5]]

# ---------------- layout geometry (pixels) ----------------
cols_px = [(51.5, 597.0), (700.0, 1246.0)]
rows_px = [(22.7, 130.0), (178.3, 286.0), (334.0, 442.3)]


def px2x(p):
    return p / W


def px2y(p):
    return 1 - p / H


# (main sample sets, outliers t, outliers v, row, col)
panels = [
    ([lx_a, lx_b], lx_out_t, lx_out_v, 0, 0),
    ([rx_vals], rx_out_t, rx_out_v, 0, 1),
    ([ly_a, ly_b], ly_out_t, ly_out_v, 1, 0),
    ([ry_vals], ry_out_t, ry_out_v, 1, 1),
    ([lz_a, lz_b], lz_out_t, lz_out_v, 2, 0),
    ([rz_vals], rz_out_t, rz_out_v, 2, 1),
]

fig = go.Figure()
layout = {}
annotations = []
tick_font = dict(family="Liberation Sans, Arial, sans-serif", size=13, color="#333333")
serif = "Liberation Serif, Times New Roman, serif"

for i, (sets, ot, ov, r, c) in enumerate(panels):
    n = i + 1
    xa = "x" if n == 1 else f"x{n}"
    ya = "y" if n == 1 else f"y{n}"
    if c == 0:
        grids = [(left_a_t0, left_a_t1), (left_b_t0, left_b_t1)]
        msize = 2.6
    else:
        grids = [(right_t0, right_t1)]
        msize = 4
    for vals, (t0, t1) in zip(sets, grids):
        t = np.linspace(t0, t1, len(vals))
        fig.add_trace(go.Scatter(x=t, y=vals, mode="markers", xaxis=xa, yaxis=ya,
                                 marker=dict(color="black", size=msize), showlegend=False,
                                 hoverinfo="skip"))
    fig.add_trace(go.Scatter(x=ot, y=ov, mode="markers", xaxis=xa, yaxis=ya,
                             marker=dict(color="black", size=3), showlegend=False,
                             hoverinfo="skip"))
    x0p, x1p = cols_px[c]
    y0p, y1p = rows_px[r]
    common = dict(showgrid=True, gridcolor="#e3e3e3", gridwidth=1, zeroline=False,
                  showline=True, linecolor="#262626", linewidth=1, mirror=False,
                  ticks="inside", ticklen=5, tickcolor="#262626", tickwidth=1,
                  tickfont=tick_font)
    xt = left_xticks if c == 0 else right_xticks
    layout["xaxis" if n == 1 else f"xaxis{n}"] = dict(
        domain=[px2x(x0p), px2x(x1p)], anchor=ya, range=x_ranges[c],
        tickvals=xt, ticktext=[str(v) for v in xt], **common)
    layout["yaxis" if n == 1 else f"yaxis{n}"] = dict(
        domain=[px2y(y1p), px2y(y0p)], anchor=xa, range=y_ranges[r],
        tickvals=y_ticks[r], ticktext=y_tick_text[r], **common)

    cx = (x0p + x1p) / 2
    annotations.append(dict(text=panel_titles[i], xref="paper", yref="paper",
                            x=px2x(cx), y=px2y(y0p - 12), xanchor="center", yanchor="middle",
                            showarrow=False, font=dict(family=serif, size=15, color="#222222")))
    lx_px = 15 if c == 0 else 667
    annotations.append(dict(text=y_labels[r], xref="paper", yref="paper",
                            x=px2x(lx_px), y=px2y((y0p + y1p) / 2), xanchor="center", yanchor="middle",
                            textangle=-90, showarrow=False,
                            font=dict(family=serif, size=15, color="#666666")))
    if r == 2:
        annotations.append(dict(text=x_label, xref="paper", yref="paper",
                                x=px2x(cx), y=px2y(473), xanchor="center", yanchor="middle",
                                showarrow=False, font=dict(family=serif, size=15, color="#555555")))

cap_x = [305, 954]
for c in range(2):
    annotations.append(dict(text=captions[c], xref="paper", yref="paper",
                            x=px2x(cap_x[c]), y=px2y(512), xanchor="center", yanchor="middle",
                            showarrow=False, font=dict(family=serif, size=27, color="black")))

fig.update_layout(width=W, height=H, margin=dict(l=0, r=0, t=0, b=0),
                  paper_bgcolor="white", plot_bgcolor="white",
                  annotations=annotations, **layout)

fig.write_html("out.html")
